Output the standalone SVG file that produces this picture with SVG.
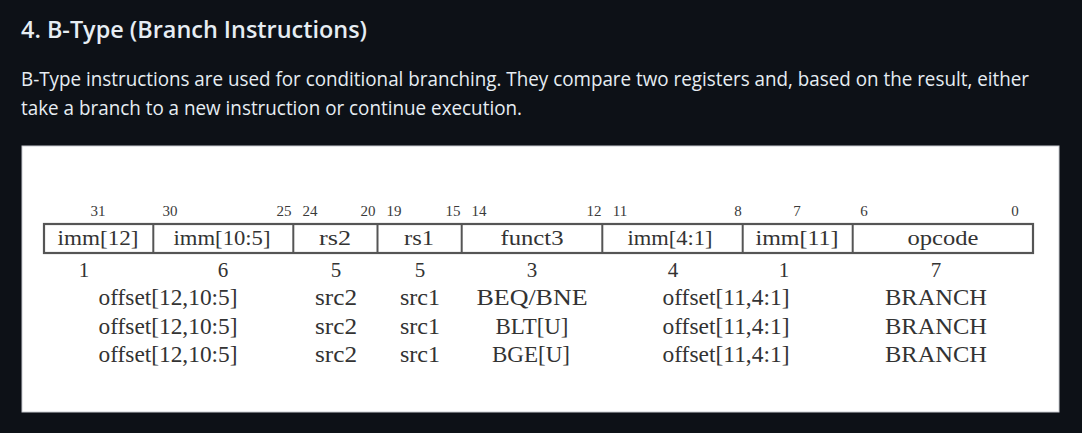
<svg xmlns="http://www.w3.org/2000/svg" width="1082" height="433" viewBox="0 0 1082 433">
<style>
.title{font-family:"Open Sans","Noto Sans",sans-serif;font-weight:600;font-size:23px;fill:#e6edf3}
.para{font-family:"Open Sans","Noto Sans",sans-serif;font-size:19.5px;fill:#e6edf3}
.bit{font-family:"Liberation Serif",serif;font-size:15px;fill:#3a3a3a;text-anchor:middle}
.fld{font-family:"Liberation Serif",serif;font-size:22px;fill:#333;text-anchor:middle}
.w{font-family:"Liberation Serif",serif;font-size:21px;fill:#333;text-anchor:middle}
.row{font-family:"Liberation Serif",serif;font-size:23px;fill:#333;text-anchor:middle}
.div{stroke:#555;stroke-width:2}
</style>
<rect x="0" y="0" width="1082" height="433" fill="#0d1117"/>
<text class="title" x="21" y="38" textLength="346" lengthAdjust="spacingAndGlyphs">4. B-Type (Branch Instructions)</text>
<text class="para" x="21" y="86" textLength="1008" lengthAdjust="spacingAndGlyphs">B-Type instructions are used for conditional branching. They compare two registers and, based on the result, either</text>
<text class="para" x="21" y="115" textLength="501" lengthAdjust="spacingAndGlyphs">take a branch to a new instruction or continue execution.</text>
<rect x="22" y="146" width="1037" height="266" fill="#ffffff" stroke="#c9ccd1" stroke-width="1"/>
<g id="bits">
<text class="bit" x="98" y="216">31</text>
<text class="bit" x="170" y="216">30</text>
<text class="bit" x="284" y="216">25</text>
<text class="bit" x="310" y="216">24</text>
<text class="bit" x="368" y="216">20</text>
<text class="bit" x="394" y="216">19</text>
<text class="bit" x="453" y="216">15</text>
<text class="bit" x="479" y="216">14</text>
<text class="bit" x="594" y="216">12</text>
<text class="bit" x="620" y="216">11</text>
<text class="bit" x="738" y="216">8</text>
<text class="bit" x="797" y="216">7</text>
<text class="bit" x="864" y="216">6</text>
<text class="bit" x="1015" y="216">0</text>
</g>
<g id="frame">
<rect x="44" y="224" width="989" height="29" fill="none" stroke="#555" stroke-width="2.2"/>
</g>
<g id="connectors">
<line class="div" x1="153.3" y1="224" x2="153.3" y2="253"/>
<line class="div" x1="293.3" y1="224" x2="293.3" y2="253"/>
<line class="div" x1="377.5" y1="224" x2="377.5" y2="253"/>
<line class="div" x1="461.7" y1="224" x2="461.7" y2="253"/>
<line class="div" x1="602.3" y1="224" x2="602.3" y2="253"/>
<line class="div" x1="742.7" y1="224" x2="742.7" y2="253"/>
<line class="div" x1="852.7" y1="224" x2="852.7" y2="253"/>
</g>
<g id="f-imm12">
<text class="fld" x="98" y="245" textLength="81" lengthAdjust="spacingAndGlyphs">imm[12]</text>
<text class="w" x="84" y="277">1</text>
</g>
<g id="f-imm10-5">
<text class="fld" x="222" y="245" textLength="97" lengthAdjust="spacingAndGlyphs">imm[10:5]</text>
<text class="w" x="223" y="277">6</text>
<text class="row" x="168" y="305" textLength="139" lengthAdjust="spacingAndGlyphs">offset[12,10:5]</text>
<text class="row" x="168" y="334" textLength="139" lengthAdjust="spacingAndGlyphs">offset[12,10:5]</text>
<text class="row" x="168" y="362" textLength="139" lengthAdjust="spacingAndGlyphs">offset[12,10:5]</text>
</g>
<g id="f-rs2">
<text class="fld" x="335" y="245" textLength="32" lengthAdjust="spacingAndGlyphs">rs2</text>
<text class="w" x="336" y="277">5</text>
<text class="row" x="336" y="305" textLength="42" lengthAdjust="spacingAndGlyphs">src2</text>
<text class="row" x="336" y="334" textLength="42" lengthAdjust="spacingAndGlyphs">src2</text>
<text class="row" x="336" y="362" textLength="42" lengthAdjust="spacingAndGlyphs">src2</text>
</g>
<g id="f-rs1">
<text class="fld" x="419" y="245" textLength="30" lengthAdjust="spacingAndGlyphs">rs1</text>
<text class="w" x="420" y="277">5</text>
<text class="row" x="420" y="305" textLength="40" lengthAdjust="spacingAndGlyphs">src1</text>
<text class="row" x="420" y="334" textLength="40" lengthAdjust="spacingAndGlyphs">src1</text>
<text class="row" x="420" y="362" textLength="40" lengthAdjust="spacingAndGlyphs">src1</text>
</g>
<g id="f-funct3">
<text class="fld" x="532" y="245" textLength="63" lengthAdjust="spacingAndGlyphs">funct3</text>
<text class="w" x="532" y="277">3</text>
<text class="row" x="532" y="305" textLength="111" lengthAdjust="spacingAndGlyphs">BEQ/BNE</text>
<text class="row" x="532" y="334" textLength="73" lengthAdjust="spacingAndGlyphs">BLT[U]</text>
<text class="row" x="531" y="362" textLength="78" lengthAdjust="spacingAndGlyphs">BGE[U]</text>
</g>
<g id="f-imm4-1">
<text class="fld" x="670" y="245" textLength="85" lengthAdjust="spacingAndGlyphs">imm[4:1]</text>
<text class="w" x="673" y="277">4</text>
<text class="row" x="726" y="305" textLength="127" lengthAdjust="spacingAndGlyphs">offset[11,4:1]</text>
<text class="row" x="726" y="334" textLength="127" lengthAdjust="spacingAndGlyphs">offset[11,4:1]</text>
<text class="row" x="726" y="362" textLength="127" lengthAdjust="spacingAndGlyphs">offset[11,4:1]</text>
</g>
<g id="f-imm11">
<text class="fld" x="797" y="245" textLength="83" lengthAdjust="spacingAndGlyphs">imm[11]</text>
<text class="w" x="784" y="277">1</text>
</g>
<g id="f-opcode">
<text class="fld" x="943" y="245" textLength="71" lengthAdjust="spacingAndGlyphs">opcode</text>
<text class="w" x="936" y="277">7</text>
<text class="row" x="936" y="305" textLength="102" lengthAdjust="spacingAndGlyphs">BRANCH</text>
<text class="row" x="936" y="334" textLength="102" lengthAdjust="spacingAndGlyphs">BRANCH</text>
<text class="row" x="936" y="362" textLength="102" lengthAdjust="spacingAndGlyphs">BRANCH</text>
</g>
</svg>
